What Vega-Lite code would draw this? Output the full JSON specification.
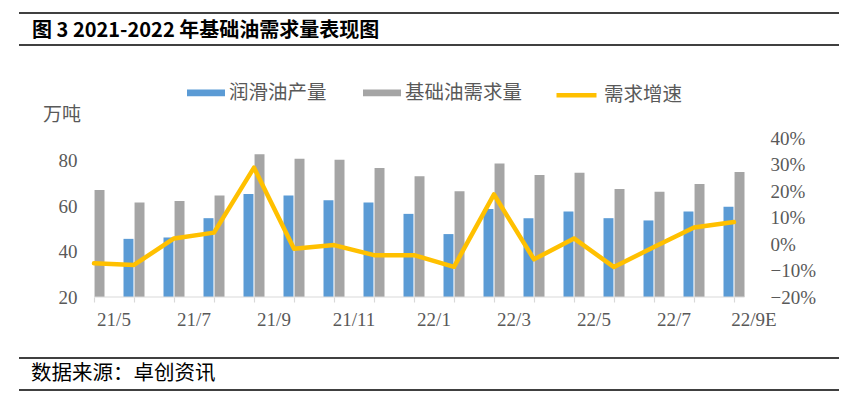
{
  "$schema": "https://vega.github.io/schema/vega-lite/v6.json",
  "padding": {"left": 18, "top": 12, "right": 14, "bottom": 14},
  "bounds": "flush",
  "spacing": 20,
  "config": {
    "view": {"stroke": null},
    "font": "Noto Sans CJK SC"
  },
  "vconcat": [
    {
      "width": 820,
      "height": 32,
      "data": {"values": [{"t": "图 3 2021-2022 年基础油需求量表现图"}]},
      "layer": [
        {
          "mark": {"type": "rule", "stroke": "#000000", "strokeWidth": 1.5},
          "encoding": {"y": {"datum": 1, "type": "quantitative", "scale": {"domain": [0, 1]}, "axis": null}}
        },
        {
          "mark": {"type": "rule", "stroke": "#000000", "strokeWidth": 1.5},
          "encoding": {"y": {"datum": 0, "type": "quantitative", "scale": {"domain": [0, 1]}, "axis": null}}
        },
        {
          "mark": {"type": "text", "align": "left", "baseline": "middle", "dx": 13, "dy": 2, "fontSize": 20, "fontWeight": "bold", "font": "Noto Sans CJK SC", "color": "#000000"},
          "encoding": {
            "x": {"datum": 0, "type": "quantitative", "scale": {"domain": [0, 1]}, "axis": null},
            "y": {"datum": 0.5, "type": "quantitative", "scale": {"domain": [0, 1]}, "axis": null},
            "text": {"field": "t"}
          }
        }
      ]
    },
    {
      "width": 820,
      "height": 273,
      "data": {
        "values": [
          {"month": "21/5", "润滑油产量": null, "基础油需求量": 67.1, "growth": -0.073},
          {"month": "21/6", "润滑油产量": 45.6, "基础油需求量": 61.6, "growth": -0.079},
          {"month": "21/7", "润滑油产量": 46.2, "基础油需求量": 62.3, "growth": 0.021},
          {"month": "21/8", "润滑油产量": 54.7, "基础油需求量": 64.7, "growth": 0.043},
          {"month": "21/9", "润滑油产量": 65.3, "基础油需求量": 82.9, "growth": 0.288},
          {"month": "21/10", "润滑油产量": 64.7, "基础油需求量": 80.9, "growth": -0.018},
          {"month": "21/11", "润滑油产量": 62.6, "基础油需求量": 80.4, "growth": -0.004},
          {"month": "21/12", "润滑油产量": 61.6, "基础油需求量": 76.8, "growth": -0.042},
          {"month": "22/1", "润滑油产量": 56.6, "基础油需求量": 73.2, "growth": -0.042},
          {"month": "22/2", "润滑油产量": 47.7, "基础油需求量": 66.6, "growth": -0.086},
          {"month": "22/3", "润滑油产量": 58.7, "基础油需求量": 78.8, "growth": 0.187},
          {"month": "22/4", "润滑油产量": 54.7, "基础油需求量": 73.7, "growth": -0.058},
          {"month": "22/5", "润滑油产量": 57.6, "基础油需求量": 74.7, "growth": 0.021},
          {"month": "22/6", "润滑油产量": 54.7, "基础油需求量": 67.6, "growth": -0.087},
          {"month": "22/7", "润滑油产量": 53.7, "基础油需求量": 66.3, "growth": -0.011},
          {"month": "22/8", "润滑油产量": 57.6, "基础油需求量": 69.7, "growth": 0.062},
          {"month": "22/9E", "润滑油产量": 59.7, "基础油需求量": 75.0, "growth": 0.083}
        ]
      },
      "layer": [
        {
          "layer": [
            {
              "transform": [{"fold": ["润滑油产量", "基础油需求量"], "as": ["series", "value"]}],
              "mark": {"type": "bar"},
              "encoding": {
                "x": {
                  "field": "month", "type": "nominal", "sort": null,
                  "scale": {
                    "domain": ["21/5","21/6","21/7","21/8","21/9","21/10","21/11","21/12","22/1","22/2","22/3","22/4","22/5","22/6","22/7","22/8","22/9E"],
                    "range": [55, 735], "paddingInner": 0.475, "paddingOuter": 0.2375
                  },
                  "axis": {
                    "orient": "bottom", "offset": -41, "title": null, "domain": false,
                    "ticks": true, "tickSize": 5, "tickColor": "#d9d9d9", "tickWidth": 1.2, "bandPosition": 0.5,
                    "labelOffset": 20, "labelPadding": 8, "labelAngle": 0, "labelFontSize": 19,
                    "labelFont": "Liberation Serif", "labelColor": "#595959", "labelOverlap": false, "labelBound": false,
                    "labelExpr": "indexof(['21/5','21/7','21/9','21/11','22/1','22/3','22/5','22/7','22/9E'], datum.label) >= 0 ? datum.label : ''"
                  }
                },
                "xOffset": {"field": "series", "type": "nominal", "sort": null, "scale": {"domain": ["润滑油产量", "基础油需求量"], "paddingInner": 0.1, "paddingOuter": 0}},
                "y": {
                  "field": "value", "type": "quantitative",
                  "scale": {"domain": [20, 90], "range": [232, 73], "zero": false, "nice": false},
                  "axis": {
                    "orient": "left", "offset": -75, "values": [20, 40, 60, 80], "domain": false, "ticks": false, "tickSize": 0, "grid": false,
                    "labelPadding": 17, "labelFontSize": 19, "labelFont": "Liberation Serif", "labelColor": "#595959",
                    "title": "万吨", "titleAngle": 0, "titleX": -32.5, "titleY": 49.5, "titleAlign": "center", "titleBaseline": "middle",
                    "titleFontSize": 19, "titleFont": "Noto Sans CJK SC", "titleFontWeight": "normal", "titleColor": "#595959"
                  }
                },
                "y2": {"datum": 20},
                "color": {
                  "field": "series", "type": "nominal",
                  "scale": {"domain": ["润滑油产量", "基础油需求量"], "range": ["#5B9BD5", "#A5A5A5"]},
                  "legend": {
                    "orient": "none", "legendX": 168, "legendY": 60.7, "direction": "horizontal", "title": null,
                    "symbolType": "M-1,-0.18H1V0.18H-1Z", "symbolSize": 1444, "symbolStrokeWidth": 0,
                    "labelFontSize": 19.5, "labelFont": "Noto Sans CJK SC", "labelColor": "#595959",
                    "labelOffset": 4, "columnPadding": 36, "padding": 0, "labelLimit": 400
                  }
                }
              }
            },
            {
              "data": {"values": [{}]},
              "mark": {"type": "rule", "stroke": "#d9d9d9", "strokeWidth": 1.2},
              "encoding": {
                "x": {"datum": "21/5", "type": "nominal", "bandPosition": 0.5},
                "x2": {"datum": "22/9E", "bandPosition": 1},
                "y": {"datum": 20, "type": "quantitative"}
              }
            }
          ]
        },
        {
          "mark": {"type": "line", "strokeWidth": 4.5, "strokeJoin": "round", "strokeCap": "round"},
          "encoding": {
            "x": {"field": "month", "type": "nominal", "sort": null},
            "y": {
              "field": "growth", "type": "quantitative",
              "scale": {"domain": [-0.2, 0.4], "range": [232, 73], "zero": false, "nice": false},
              "axis": {
                "orient": "right", "offset": -85, "values": [-0.2, -0.1, 0, 0.1, 0.2, 0.3, 0.4], "format": ".0%",
                "domain": false, "ticks": false, "tickSize": 0, "grid": false, "title": null,
                "labelPadding": 16, "labelFontSize": 19, "labelFont": "Liberation Serif", "labelColor": "#595959"
              }
            },
            "stroke": {
              "datum": "需求增速", "type": "nominal",
              "scale": {"domain": ["需求增速"], "range": ["#FFC000"]},
              "legend": {
                "orient": "none", "legendX": 535, "legendY": 59.7, "title": null,
                "symbolType": "stroke", "symbolSize": 1600, "symbolStrokeWidth": 4.5,
                "labelFontSize": 19.5, "labelFont": "Noto Sans CJK SC", "labelColor": "#595959",
                "labelOffset": 5, "padding": 0, "labelLimit": 400
              }
            }
          }
        }
      ],
      "resolve": {"scale": {"y": "independent"}}
    },
    {
      "width": 820,
      "height": 32,
      "data": {"values": [{"t": "数据来源：卓创资讯"}]},
      "layer": [
        {
          "mark": {"type": "rule", "stroke": "#000000", "strokeWidth": 1.5},
          "encoding": {"y": {"datum": 1, "type": "quantitative", "scale": {"domain": [0, 1]}, "axis": null}}
        },
        {
          "mark": {"type": "rule", "stroke": "#000000", "strokeWidth": 1.5},
          "encoding": {"y": {"datum": 0, "type": "quantitative", "scale": {"domain": [0, 1]}, "axis": null}}
        },
        {
          "mark": {"type": "text", "align": "left", "baseline": "middle", "dx": 12, "dy": 0, "fontSize": 20.5, "font": "Noto Sans CJK SC", "color": "#000000"},
          "encoding": {
            "x": {"datum": 0, "type": "quantitative", "scale": {"domain": [0, 1]}, "axis": null},
            "y": {"datum": 0.5, "type": "quantitative", "scale": {"domain": [0, 1]}, "axis": null},
            "text": {"field": "t"}
          }
        }
      ]
    }
  ]
}
